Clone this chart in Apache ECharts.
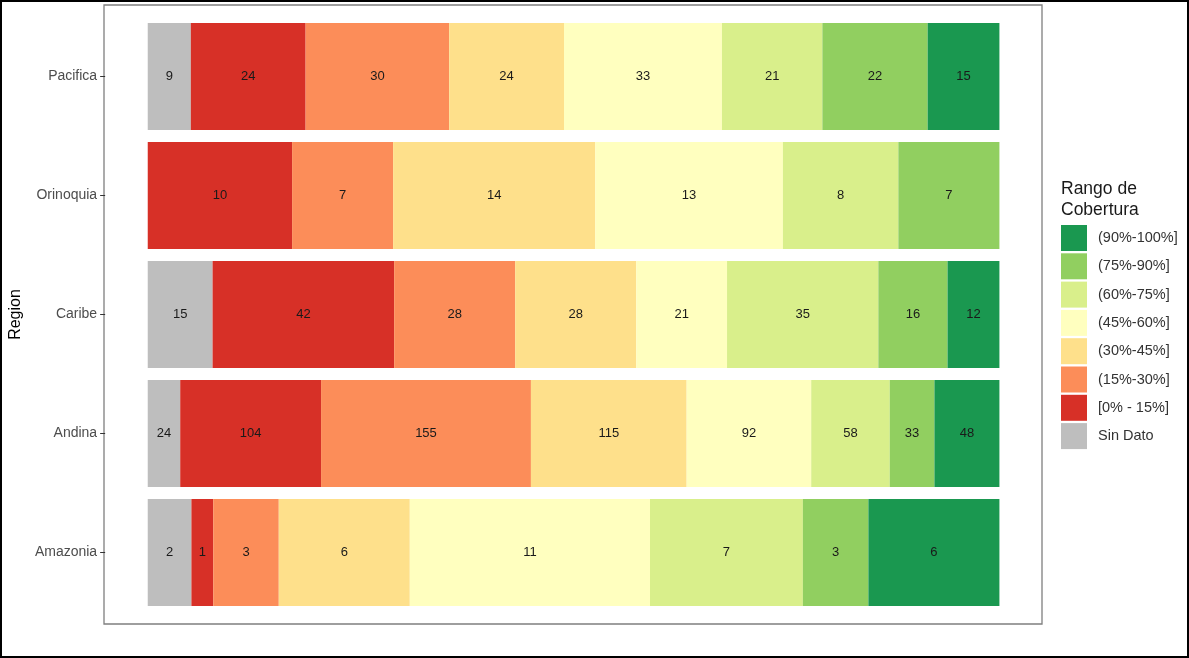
<!DOCTYPE html>
<html><head><meta charset="utf-8">
<script src="https://cdn.jsdelivr.net/npm/echarts@6/dist/echarts.min.js"></script>
<style>
html,body{margin:0;padding:0;background:#fff;}
#wrap{position:relative;width:1189px;height:658px;}
#chart{width:1189px;height:658px;}
#frame{position:absolute;left:0;top:0;width:1189px;height:658px;box-sizing:border-box;border:2px solid #000;pointer-events:none;}
</style></head>
<body><div id="wrap"><div id="chart"></div><div id="frame"></div></div>
<script>
const regions = ['Amazonia','Andina','Caribe','Orinoquia','Pacifica'];
const ranges = ['Sin Dato','[0% - 15%]','(15%-30%]','(30%-45%]','(45%-60%]','(60%-75%]','(75%-90%]','(90%-100%]'];
const colors = ['#BEBEBE','#D73027','#FC8D59','#FEE08B','#FFFFBF','#D9EF8B','#91CF60','#1A9850'];
// counts per range, in region order above
const sinDato   = [2, 24, 15, 0, 9];
const r0_15     = [1, 104, 42, 10, 24];
const r15_30    = [3, 155, 28, 7, 30];
const r30_45    = [6, 115, 28, 14, 24];
const r45_60    = [11, 92, 21, 13, 33];
const r60_75    = [7, 58, 35, 8, 21];
const r75_90    = [3, 33, 16, 7, 22];
const r90_100   = [6, 48, 12, 0, 15];
const counts = [sinDato, r0_15, r15_30, r30_45, r45_60, r60_75, r75_90, r90_100];

const totals = regions.map((_, i) => counts.reduce((s, a) => s + a[i], 0));

const series = ranges.map((name, k) => ({
  name: name,
  type: 'bar',
  stack: 'total',
  xAxisIndex: 0, yAxisIndex: 0,
  barCategoryGap: '10%',
  itemStyle: {color: colors[k]},
  label: {
    show: true, position: 'inside', color: '#1a1a1a', fontSize: 13,
    fontFamily: 'Liberation Sans, Arial, sans-serif',
    formatter: p => counts[k][p.dataIndex] > 0 ? String(counts[k][p.dataIndex]) : ''
  },
  data: counts[k].map((v, i) => v / totals[i])
}));

const chart = echarts.init(document.getElementById('chart'), null, {renderer: 'canvas'});
chart.setOption({
  animation: false,
  textStyle: {fontFamily: 'Liberation Sans, Arial, sans-serif'},
  title: {
    text: 'Rango de\nCobertura', left: 1056, top: 174,
    textStyle: {fontSize: 17.5, fontWeight: 'normal', color: '#1a1a1a', lineHeight: 21}
  },
  legend: {
    orient: 'vertical', left: 1056, top: 220,
    itemWidth: 26, itemHeight: 26, itemGap: 2.3,
    icon: 'rect',
    data: ranges.slice().reverse(),
    textStyle: {fontSize: 14.5, color: '#333', padding: [0,0,0,6]},
    selectedMode: false
  },
  grid: [
    {left: 104, width: 938, top: 17, bottom: 46, containLabel: false},
    {left: 104, top: 5, width: 938, height: 619, show: true, borderColor: '#7f7f7f', borderWidth: 1.3, backgroundColor: 'transparent', z: 0}
  ],
  xAxis: [
    {type: 'value', gridIndex: 0, min: -0.05, max: 1.05, show: false},
    {type: 'value', gridIndex: 1, show: false}
  ],
  yAxis: [
    {type: 'category', gridIndex: 0, data: regions,
     axisLine: {show: false, onZero: false},
     axisTick: {show: true, alignWithLabel: true, length: 5, lineStyle: {color: '#333'}},
     axisLabel: {fontSize: 14, color: '#4d4d4d', margin: 8},
     name: 'Region', nameLocation: 'middle', nameRotate: 90, nameGap: 79,
     nameTextStyle: {fontSize: 16, color: '#000'}
    },
    {type: 'value', gridIndex: 1, show: false}
  ],
  series: series
});
</script></body></html>
